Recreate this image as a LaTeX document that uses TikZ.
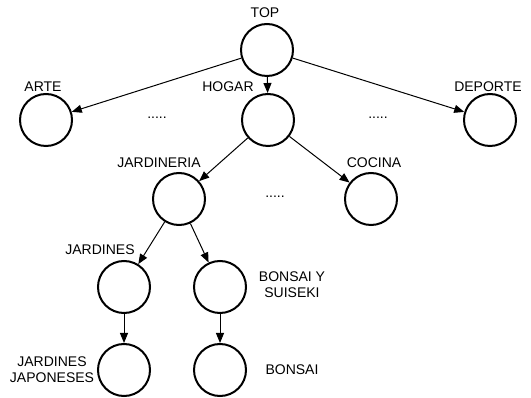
\documentclass[tikz,border=0pt]{standalone}
\usepackage{fontspec}
\setmainfont{Liberation Sans}
\usetikzlibrary{arrows.meta}
\begin{document}
\begin{tikzpicture}[x=0.75pt, y=-0.75pt,
		cat/.style={circle, draw, line width=1.5pt, minimum size=39pt, inner sep=0pt},
		lbl/.style={font=\fontsize{10.5pt}{12pt}\selectfont, inner sep=0pt, align=center},
		rel/.style={-{Triangle[length=7.5pt, width=6pt]}, line width=0.75pt}]
			\useasboundingbox (0,0) rectangle (531,398);
			
			% categorias
			\node[cat] (top) at (267, 50){};
			\node[cat] (arte) at (46, 120){};
			\node[cat] (hogar) at (268, 120){};
			\node[cat] (deporte) at (490, 120){};
			\node[cat] (jardineria) at (179, 199){};
			\node[cat] (cocina) at (371, 199){};
			\node[cat] (jardines) at (124, 287){};
			\node[cat] (bonsaiys) at (220, 287){};
			\node[cat] (japoneses) at (124, 370){};
			\node[cat] (bonsai) at (220, 370){};
			
			% nombres
			\node[lbl] (ltop) at (265, 13){TOP};
			\node[lbl] (larte) at (43, 87){ARTE};
			\node[lbl] (lhogar) at (228, 87){HOGAR};
			\node[lbl] (ldeporte) at (488, 87){DEPORTE};
			\node[lbl] (ljardineria) at (159, 163){JARDINERIA};
			\node[lbl] (lcocina) at (374, 163){COCINA};
			\node[lbl] (ljardines) at (100, 250){JARDINES};
			\node[lbl] (lbonsaiys) at (292, 285){BONSAI Y\\SUISEKI};
			\node[lbl] (ljaponeses) at (52, 370){JARDINES\\JAPONESES};
			\node[lbl] (lbonsai) at (292, 370){BONSAI};
			
			\node[lbl] (dotsa) at (157, 118){.....};
			\node[lbl] (dotsb) at (378, 118){.....};
			\node[lbl] (dotsc) at (275, 197){.....};
			
			% relaciones
			\foreach \a/\b in {top/arte, top/hogar, top/deporte, hogar/jardineria, hogar/cocina,
				jardineria/jardines, jardineria/bonsaiys, jardines/japoneses, bonsaiys/bonsai}{
				\draw[rel] (\a) -- (\b);
			}
		\end{tikzpicture}
\end{document}
